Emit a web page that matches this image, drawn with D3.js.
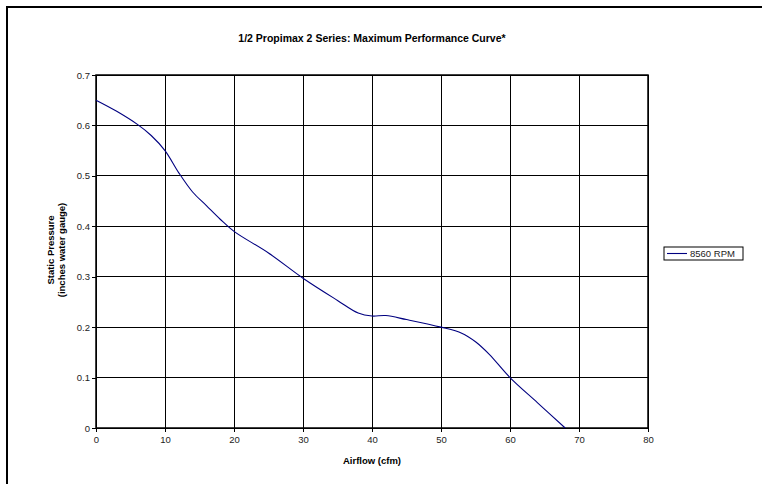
<!DOCTYPE html>
<html>
<head>
<meta charset="utf-8">
<script src="https://cdn.jsdelivr.net/npm/d3@7"></script>
<style>
  body { margin: 0; background: #fff; }
  text { font-family: "Liberation Sans", Arial, sans-serif; }
</style>
</head>
<body>
<svg id="chart" width="762" height="484"></svg>
<script>
/* data */
const airflow = [0, 3, 6, 8, 10, 12, 14, 16, 18, 20, 25, 30, 35, 38, 40, 42, 45, 50, 53, 55, 57, 60, 64, 68];
const pressure = [0.65, 0.628, 0.602, 0.58, 0.55, 0.506, 0.468, 0.441, 0.414, 0.39, 0.347, 0.297, 0.253, 0.228, 0.222, 0.223, 0.215, 0.2, 0.188, 0.171, 0.146, 0.1, 0.05, 0];
const xTicks = [0, 10, 20, 30, 40, 50, 60, 70, 80];
const yTicks = [0, 0.1, 0.2, 0.3, 0.4, 0.5, 0.6, 0.7];
const seriesName = "8560 RPM";

const svg = d3.select("#chart");

/* outer chart border (top and left visible) */
svg.append("path").attr("d", "M7,484 L7,7 L762,7")
  .attr("fill", "none").attr("stroke", "#000").attr("stroke-width", 2);

const margin = { left: 96, top: 75, right: 648, bottom: 428 };
const x = d3.scaleLinear().domain([0, 80]).range([margin.left, margin.right]);
const y = d3.scaleLinear().domain([0, 0.7]).range([margin.bottom, margin.top]);

const grid = svg.append("g").attr("stroke", "#000").attr("stroke-width", 1).attr("shape-rendering", "crispEdges");
xTicks.forEach(t => grid.append("line").attr("x1", x(t)).attr("x2", x(t)).attr("y1", y(0)).attr("y2", y(0.7)));
yTicks.forEach(t => grid.append("line").attr("x1", x(0)).attr("x2", x(80)).attr("y1", y(t)).attr("y2", y(t)));

const xAxis = svg.append("g").attr("transform", `translate(0,${margin.bottom})`)
  .call(d3.axisBottom(x).tickValues(xTicks).tickSize(4).tickFormat(d3.format("d")));
const yAxis = svg.append("g").attr("transform", `translate(${margin.left},0)`)
  .call(d3.axisLeft(y).tickValues(yTicks).tickSize(4).tickFormat(d => d === 0 ? "0" : d3.format(".1f")(d)));
[xAxis, yAxis].forEach(a => {
  a.select(".domain").remove();
  a.selectAll("line").attr("stroke", "#000").attr("shape-rendering", "crispEdges");
  a.selectAll("text").attr("font-size", 9.5).attr("fill", "#222")
    .style("font-family", "'Liberation Sans', Arial, sans-serif");
});
xAxis.selectAll(".tick line").attr("y1", -4).attr("y2", 4);
xAxis.selectAll("text").attr("y", 8);
yAxis.selectAll(".tick line").attr("x1", -4).attr("x2", 0);
yAxis.selectAll("text").attr("x", -6);

/* plot frame */
svg.append("rect").attr("x", margin.left).attr("y", margin.top)
  .attr("width", margin.right - margin.left).attr("height", margin.bottom - margin.top)
  .attr("fill", "none").attr("stroke", "#000").attr("stroke-width", 1.5);

const pts = airflow.map((a, i) => ({ a, p: pressure[i] }));
const line = d3.line().x(d => x(d.a)).y(d => y(d.p)).curve(d3.curveCatmullRom.alpha(0.5));
svg.append("path").datum(pts).attr("fill", "none").attr("stroke", "#000080").attr("stroke-width", 1.1).attr("d", line);

/* titles */
svg.append("text").attr("x", 372).attr("y", 42).attr("text-anchor", "middle").attr("fill", "#000")
  .attr("font-size", 10.5).attr("font-weight", "bold").text("1/2 Propimax 2 Series: Maximum Performance Curve*");
svg.append("text").attr("x", 372).attr("y", 464).attr("text-anchor", "middle").attr("fill", "#000")
  .attr("font-size", 9.5).attr("font-weight", "bold").text("Airflow (cfm)");
const yl = svg.append("text").attr("transform", "translate(0,250) rotate(-90)").attr("fill", "#000")
  .attr("text-anchor", "middle").attr("font-size", 9.5).attr("font-weight", "bold");
yl.append("tspan").attr("x", 0).attr("y", 54).text("Static Pressure");
yl.append("tspan").attr("x", 0).attr("y", 65).text("(inches water gauge)");

/* legend */
const lg = svg.append("g").attr("transform", "translate(664,247)");
lg.append("rect").attr("width", 79).attr("height", 13).attr("fill", "#fff").attr("stroke", "#000").attr("stroke-width", 1);
lg.append("line").attr("x1", 3).attr("x2", 23).attr("y1", 6.5).attr("y2", 6.5).attr("stroke", "#000080").attr("stroke-width", 1.1);
lg.append("text").attr("x", 26).attr("y", 10).attr("font-size", 9.5).attr("fill", "#222").text(seriesName);
</script>
</body>
</html>
